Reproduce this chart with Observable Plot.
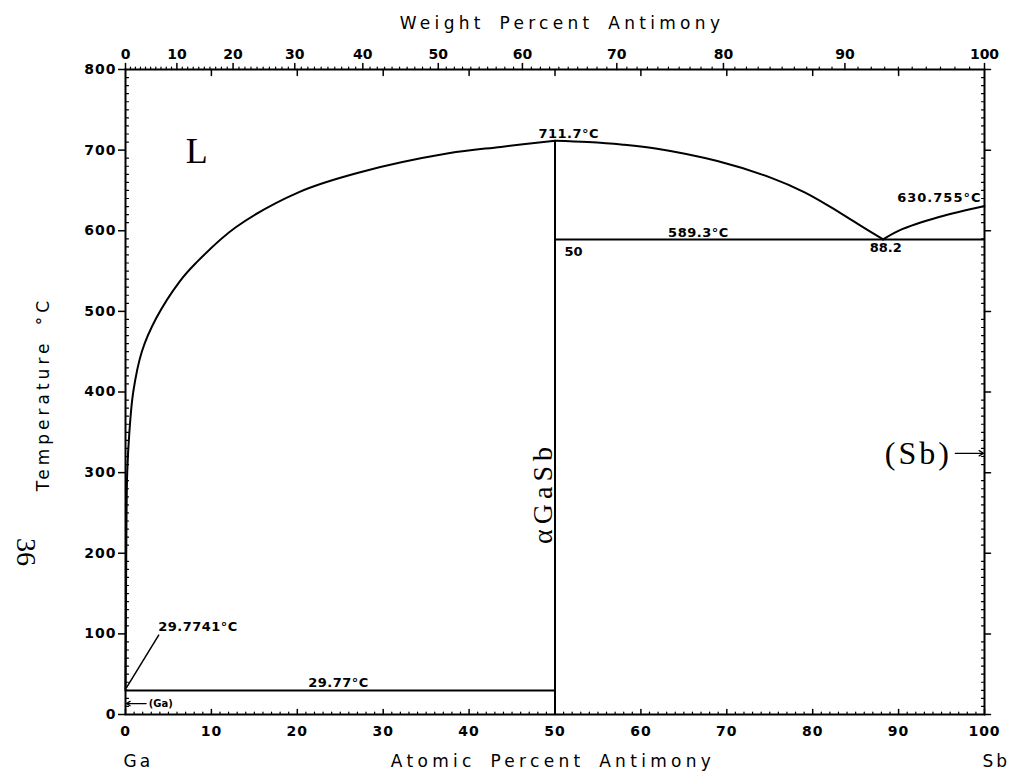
<!DOCTYPE html>
<html><head><meta charset="utf-8">
<script src="https://cdn.jsdelivr.net/npm/d3@7"></script>
<script src="https://cdn.jsdelivr.net/npm/@observablehq/plot@0.6"></script>
<style>
html,body{margin:0;padding:0;background:#fff;}
#chart svg{display:block;}
</style></head><body><div id="chart"></div>
<script>
// ---- data ----
const atomicTicks = [0,10,20,30,40,50,60,70,80,90,100];
const weightTicks = [0,10,20,30,40,50,60,70,80,90,100];
const tempTicks = [0,100,200,300,400,500,600,700,800];
const massGa = 69.723, massSb = 121.76;

// liquidus, Ga side of GaSb (atomic % Sb, °C)
const liquidusGaSide = [[0,29.77],[0.05,120],[0.1,220],[0.2,300],[0.45,350],[0.9,400],[1.9,450],[3.6,492],[6.3,537],[8.2,560],[12.8,604],[20.2,648],[27.1,672],[37.6,696],[43.7,704],[50,711.7]];
// liquidus, GaSb to eutectic
const liquidusMid = [[50,711.7],[53.8,710],[57.7,707],[61.9,701.8],[68.9,686.5],[75.1,665.9],[79,648],[82.1,629.4],[85.2,608.8],[88.2,589.3]];
// liquidus, eutectic to Sb
const liquidusSbSide = [[88.2,589.3],[90.1,600.5],[94.7,617],[100,630.755]];
// invariant horizontals
const invariants = [{T:29.77,x1:0,x2:50},{T:589.3,x1:50,x2:100}];
// GaSb compound line
const compound = [{x:50,T1:0,T2:711.7}];

const wtToAt = w => w >= 100 ? 100 : 100*(w/massSb)/((w/massSb)+((100-w)/massGa));
const minorAt = d3.range(0,101,1).filter(d => d % 10 !== 0);
const minorWt = d3.range(1,100,1).filter(d => d % 10 !== 0);
const minorT = d3.range(0,801,10).filter(d => d % 100 !== 0);

const tick = {draw(ctx, l){ ctx.moveTo(0,0); ctx.lineTo(0,-l); }};
const font = "DejaVu Sans";
const serif = "Liberation Serif";

const chart = Plot.plot({
  width: 1010, height: 773,
  marginLeft: 125, marginRight: 26, marginTop: 69, marginBottom: 59,
  x: {domain: [0,100]},
  y: {domain: [0,800]},
  style: {background: "white", color: "black", fontFamily: font},
  marks: [
    Plot.frame({strokeWidth: 2}),
    // bottom axis labels
    Plot.axisX({anchor: "bottom", ticks: atomicTicks, tickSize: 0, tickPadding: 12, fontSize: 14, fontWeight: "bold", label: null}),
    Plot.vector(atomicTicks, {x: d => d, frameAnchor: "bottom", rotate: 0, length: 5, anchor: "start", shape: tick, strokeWidth: 1.5}),
    Plot.vector(minorAt, {x: d => d, frameAnchor: "bottom", rotate: 0, length: 2.5, anchor: "start", shape: tick, strokeWidth: 1.2}),
    // left axis
    Plot.axisY({anchor: "left", ticks: tempTicks, tickSize: 7, tickPadding: 2, fontSize: 14, fontWeight: "bold", label: null, strokeWidth: 1.5}),
    Plot.vector(minorT, {y: d => d, frameAnchor: "left", rotate: 90, length: 3, anchor: "start", shape: tick, strokeWidth: 1.2}),
    // right axis ticks
    Plot.vector(tempTicks, {y: d => d, frameAnchor: "right", rotate: 90, length: 6, anchor: "start", shape: tick, strokeWidth: 1.5}),
    Plot.vector(minorT, {y: d => d, frameAnchor: "right", rotate: -90, length: 3, anchor: "start", shape: tick, strokeWidth: 1.2}),
    // top axis: weight percent (outward) and atomic percent (inward)
    Plot.vector(weightTicks, {x: wtToAt, frameAnchor: "top", rotate: 0, length: 6, anchor: "start", shape: tick, strokeWidth: 1.5}),
    Plot.vector(minorWt, {x: wtToAt, frameAnchor: "top", rotate: 0, length: 2.5, anchor: "start", shape: tick, strokeWidth: 1.2}),
    Plot.vector(atomicTicks.slice(1,-1), {x: d => d, frameAnchor: "top", rotate: 180, length: 6, anchor: "start", shape: tick, strokeWidth: 1.5}),
    Plot.text(weightTicks, {x: wtToAt, frameAnchor: "top", lineAnchor: "bottom", dy: -11, text: d => String(d), fontSize: 14, fontWeight: "bold"}),
    // axis titles
    Plot.text(["Weight Percent Antimony"], {frameAnchor: "top", textAnchor: "middle", lineAnchor: "bottom", dy: -41, dx: 7, fontSize: 17}),
    Plot.text(["Atomic Percent Antimony"], {frameAnchor: "bottom", textAnchor: "middle", lineAnchor: "bottom", dy: 52, dx: -2, fontSize: 17}),
    Plot.text(["Temperature °C"], {frameAnchor: "left", textAnchor: "middle", dx: -82, dy: 2, rotate: -90, fontSize: 17}),
    Plot.text(["Ga"], {frameAnchor: "bottom-left", lineAnchor: "bottom", textAnchor: "start", dy: 52, dx: -2, fontSize: 17}),
    Plot.text(["Sb"], {frameAnchor: "bottom-right", lineAnchor: "bottom", textAnchor: "start", dy: 52, dx: -2, fontSize: 17}),
    Plot.text(["36"], {frameAnchor: "left", textAnchor: "middle", dx: -100, dy: 160, rotate: 90, fontSize: 28, fontFamily: serif}),
    // phase boundaries
    Plot.line(liquidusGaSide, {x: d => d[0], y: d => d[1], curve: "catmull-rom", strokeWidth: 2}),
    Plot.line(liquidusMid, {x: d => d[0], y: d => d[1], curve: "catmull-rom", strokeWidth: 2}),
    Plot.line(liquidusSbSide, {x: d => d[0], y: d => d[1], curve: "catmull-rom", strokeWidth: 2}),
    Plot.ruleY(invariants, {y: "T", x1: "x1", x2: "x2", strokeWidth: 2}),
    Plot.ruleX(compound, {x: "x", y1: "T1", y2: "T2", strokeWidth: 2}),
    // leader line and arrows
    Plot.link([{x1: 0.1, y1: 33, x2: 3.9, y2: 99}], {x1: "x1", y1: "y1", x2: "x2", y2: "y2", strokeWidth: 1.5}),
    Plot.arrow([{x1: 2.4, y1: 13.6, x2: 0.1, y2: 13.6}], {x1: "x1", y1: "y1", x2: "x2", y2: "y2", strokeWidth: 1.3, headLength: 5}),
    Plot.arrow([{x1: 96.6, y1: 324, x2: 99.9, y2: 324}], {x1: "x1", y1: "y1", x2: "x2", y2: "y2", strokeWidth: 1.3, headLength: 6}),
    // annotations
    Plot.text([{x: 51.6, T: 711.7, t: "711.7°C"}], {x: "x", y: "T", text: "t", lineAnchor: "bottom", dy: -3, fontSize: 13, fontWeight: "bold"}),
    Plot.text([{x: 66.7, T: 589.3, t: "589.3°C"}], {x: "x", y: "T", text: "t", lineAnchor: "bottom", dy: -2.5, fontSize: 13, fontWeight: "bold"}),
    Plot.text([{x: 100, T: 630.755, t: "630.755°C"}], {x: "x", y: "T", text: "t", lineAnchor: "bottom", textAnchor: "end", dx: -3, dy: -4, fontSize: 13, fontWeight: "bold"}),
    Plot.text([{x: 24.8, T: 29.77, t: "29.77°C"}], {x: "x", y: "T", text: "t", lineAnchor: "bottom", dy: -3, fontSize: 13, fontWeight: "bold"}),
    Plot.text([{x: 3.8, T: 104, t: "29.7741°C"}], {x: "x", y: "T", text: "t", lineAnchor: "bottom", textAnchor: "start", fontSize: 13, fontWeight: "bold"}),
    Plot.text([{x: 51.1, T: 589.3, t: "50"}], {x: "x", y: "T", text: "t", lineAnchor: "top", textAnchor: "start", dy: 7, fontSize: 13, fontWeight: "bold"}),
    Plot.text([{x: 88.5, T: 589.3, t: "88.2"}], {x: "x", y: "T", text: "t", lineAnchor: "top", dy: 3, fontSize: 13, fontWeight: "bold"}),
    Plot.text([{x: 2.7, T: 13.6, t: "(Ga)"}], {x: "x", y: "T", text: "t", textAnchor: "start", fontSize: 10, fontWeight: "bold"}),
    // phase labels
    Plot.text([{x: 8.3, T: 683.6, t: "L"}], {x: "x", y: "T", text: "t", lineAnchor: "bottom", fontSize: 36, fontFamily: serif}),
    Plot.text([{x: 96.2, T: 324, t: "(Sb)"}], {x: "x", y: "T", text: "t", textAnchor: "end", fontSize: 32, fontFamily: serif}),
    Plot.text([{x: 50, T: 274.8, t: "αGaSb"}], {x: "x", y: "T", text: "t", rotate: -90, lineAnchor: "bottom", dx: -3, fontSize: 28, fontFamily: serif})
  ]
});
document.getElementById("chart").appendChild(chart);

// letter spacing, as in the typed original
const spacing = {
  "Weight Percent Antimony": ["4.3px", "5px"],
  "Atomic Percent Antimony": ["4.3px", "5px"],
  "Temperature °C": ["4px", "5px"],
  "Ga": ["3px", null], "Sb": ["3px", null],
  "αGaSb": ["5px", null], "(Sb)": ["3px", null],
  "630.755°C": ["1px", null], "711.7°C": ["0.5px", null], "589.3°C": ["0.5px", null],
  "29.77°C": ["0.5px", null], "29.7741°C": ["0.5px", null]
};
d3.select(chart).selectAll("text").each(function() {
  const s = spacing[this.textContent];
  if (s) {
    this.style.letterSpacing = s[0];
    if (s[1]) this.style.wordSpacing = s[1];
  }
});
d3.select(chart).selectAll("g[aria-label='y-axis tick label'] text, g[aria-label='x-axis tick label'] text").style("letter-spacing", "1px");
</script>
</body></html>
